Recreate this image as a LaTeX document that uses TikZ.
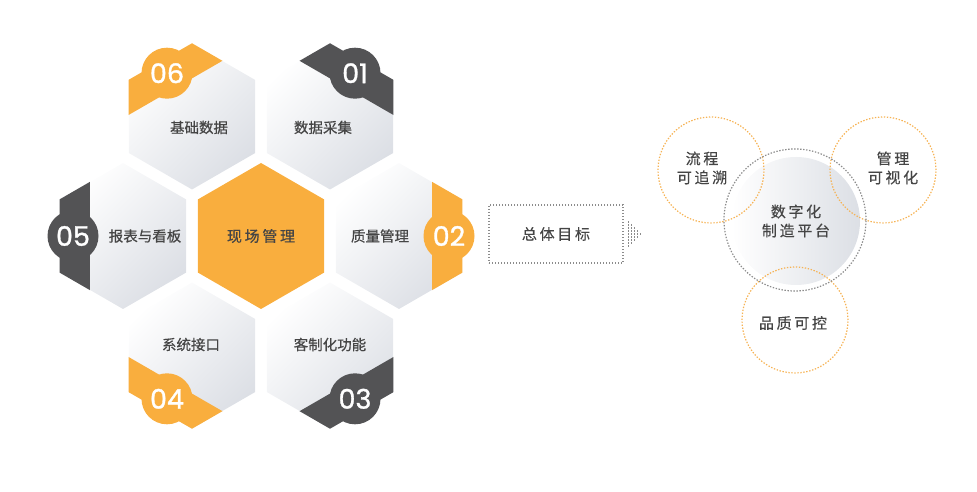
\documentclass[tikz,border=0pt]{standalone}
\usepackage{fontspec}
\usetikzlibrary{shapes.geometric, calc}
\setmainfont{Noto Sans CJK SC}[FakeBold=0.5]
\newfontfamily\numfont{Poppins}[FakeBold=1.2]
\newfontfamily\widefont{Noto Sans CJK SC}[LetterSpace=18, FakeBold=0.5]
\definecolor{hexorange}{HTML}{F9AE3E}
\definecolor{hexdark}{HTML}{535355}
\definecolor{hexgray}{HTML}{DCDFE5}
\definecolor{txtgray}{HTML}{454545}
\definecolor{dotgray}{HTML}{8C8C8C}
\definecolor{dotorange}{HTML}{F6B355}
\tikzstyle{hexbase} = [regular polygon, regular polygon sides=6, shape border rotate=30, minimum size=146pt, inner sep=0pt]
\tikzstyle{hexa} = [hexbase, top color=white, bottom color=hexgray, shading angle=45]
\tikzstyle{badge} = [circle, minimum size=51pt, inner sep=0pt, text=white, font=\numfont\fontsize{27}{27}\selectfont]
\tikzstyle{dots} = [line width=1.2pt, dash pattern=on 1.4pt off 1.6pt]
\tikzstyle{ring} = [circle, minimum size=106pt, draw=dotorange, dots]
\tikzstyle{ringtext} = [align=center, font=\widefont\fontsize{15}{19}\selectfont]

\begin{document}
\begin{tikzpicture}[x=1pt, y=1pt, every node/.style={text=txtgray, font=\fontsize{14.5}{17}\selectfont}]
    \useasboundingbox (0,0) rectangle (977,492);
    % honeycomb
    \node (core) [hexbase, fill=hexorange, font=\widefont\fontsize{15}{17}\selectfont] at (261,256) {现场管理};
    \foreach \n/\a/\col/\txt/\dx/\dy in {01/60/hexdark/数据采集/-7/-11, 02/0/hexorange/质量管理/-19/0, 03/300/hexdark/客制化功能/0/11, 04/240/hexorange/系统接口/-1/11, 05/180/hexdark/报表与看板/22/0, 06/120/hexorange/基础数据/7/-11} {
        \node (h\n) [hexa] at ($(core)+(\a:138)$) {};
        \begin{scope}
            \clip (h\n.corner 1) -- (h\n.corner 2) -- (h\n.corner 3) -- (h\n.corner 4) -- (h\n.corner 5) -- (h\n.corner 6) -- cycle;
            \fill [\col, shift={(h\n.center)}, rotate=\a] (33,-90) rectangle (90,90);
        \end{scope}
        \node (b\n) [badge, fill=\col] at ($(h\n)+(\a:50)$) {\n};
        \node (t\n) at ($(h\n)+(\dx,\dy)$) {\txt};
    }
    % goal box and dotted pointer
    \node (goal) [draw=dotgray, dots, minimum width=134pt, minimum height=58pt, font=\widefont\fontsize{15}{17}\selectfont] at (556,258) {总体目标};
    \foreach \i/\h in {0/4, 1/3, 2/2, 3/1, 4/0} {
        \foreach \j in {-\h,...,\h} {
            \fill [dotgray] ($(goal.east)+(5+3*\i-0.8, 3*\j-0.8)$) rectangle ++(1.6,1.6);
        }
    }
    % platform circles
    \node (plat) [circle, minimum size=128pt, left color=white, right color=hexgray, ringtext] at (796,271) {数字化\\制造平台};
    \node (r1) [ring] at (711,322) {};
    \node (r2) [ring] at (883,322) {};
    \node (r3) [ring] at (795,172) {};
    \node (outer) [circle, minimum size=142pt, draw=dotgray, dots] at (795,272) {};
    \node (l1) [ringtext] at (702,324) {流程\\可追溯};
    \node (l2) [ringtext] at (893,324) {管理\\可视化};
    \node (l3) [ringtext] at (793,169) {品质可控};
\end{tikzpicture}
\end{document}
